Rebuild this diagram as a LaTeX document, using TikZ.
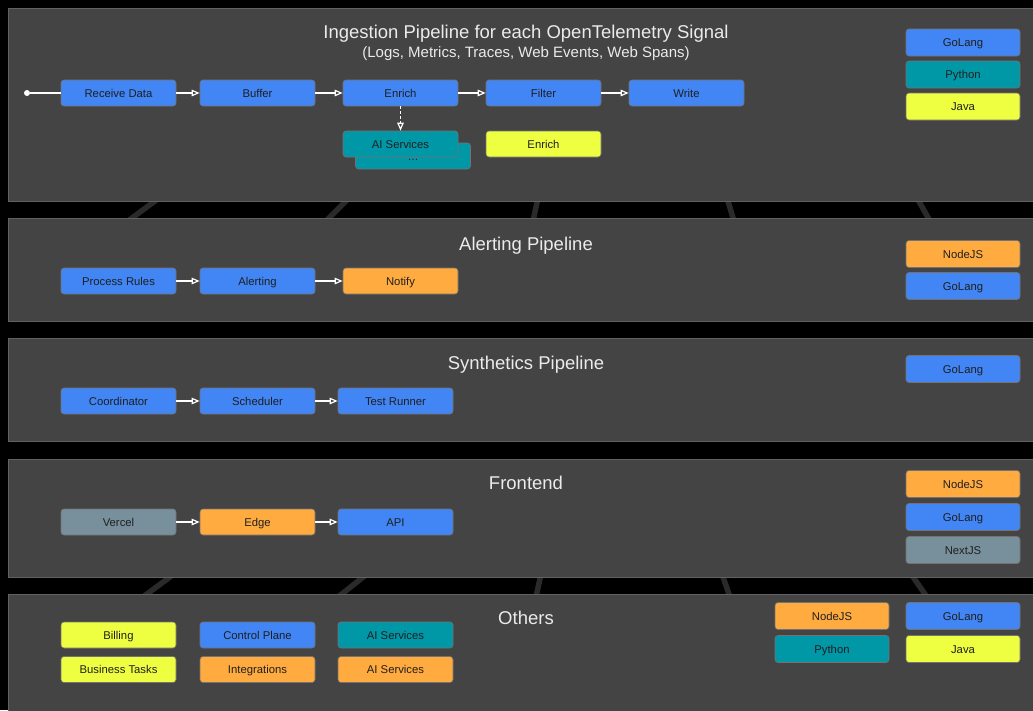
\documentclass[tikz,border=0pt]{standalone}
\usepackage{fontspec}
\setmainfont{Liberation Sans}
\tikzset{>=latex}
\usetikzlibrary{arrows.meta,calc}
\definecolor{cgo}{HTML}{4285F4}
\definecolor{cpy}{HTML}{0097A7}
\definecolor{cjava}{HTML}{EEFF41}
\definecolor{cnode}{HTML}{FFAB40}
\definecolor{cnext}{HTML}{78909C}
\definecolor{panelfill}{HTML}{444444}
\definecolor{panelline}{HTML}{626262}
\definecolor{webline}{HTML}{2A2A2A}

\begin{document}
\begin{tikzpicture}[x=1pt,y=-1pt,
  svc/.style={draw=black!55,line width=0.6pt,rounded corners=3pt,minimum width=115pt,minimum height=26pt,inner sep=0pt,text height=8pt,text depth=0pt,text=black!88,font=\fontsize{11.3}{13}\selectfont},
  lang/.style={svc,minimum width=114pt,minimum height=27pt},
  panel/.style={fill=panelfill,draw=panelline,line width=1pt},
  ttl/.style={anchor=base,text=white!92!black,font=\fontsize{18.5}{22}\selectfont},
  flow/.style={draw=white,line width=1.2pt,-{Triangle[open,length=8pt,width=6.5pt]}},
  web/.style={draw=webline,line width=5.5pt}]
  \pgfmathsetmacro{\cx}{526}
  \useasboundingbox (0,0) rectangle (1033,710);
  \fill[black] (0,0) rectangle (1033,710);
  % background web
  \draw[web] (159,198) -- (128,221);
  \draw[web] (349,198) -- (326,221);
  \draw[web] (538,198) -- (533,221);
  \draw[web] (727,198) -- (734,221);
  \draw[web] (917,198) -- (930,221);
  \draw[web] (174,574) -- (143,597);
  \draw[web] (367,574) -- (338,597);
  \draw[web] (541,574) -- (536,597);
  \draw[web] (722,574) -- (730,597);
  \draw[web] (911,574) -- (927,597);
  % panels
  \draw[panel] (8,8) rectangle (1045,201);
  \draw[panel] (8,218) rectangle (1045,321);
  \draw[panel] (8,338) rectangle (1045,441);
  \draw[panel] (8,459) rectangle (1045,577);
  \draw[panel] (8,594) rectangle (1045,720);

  % ingestion
  \node[ttl] (t1) at (\cx,38.3) {Ingestion Pipeline for each OpenTelemetry Signal};
  \node[ttl,font=\fontsize{15}{18}\selectfont] (t1b) at (\cx,57.5) {(Logs, Metrics, Traces, Web Events, Web Spans)};
  \node[circle,fill=white,inner sep=0pt,minimum size=6pt] (src) at (27,93) {};
  \node[svc,fill=cgo] (recv) at (118.5,93) {Receive Data};
  \node[svc,fill=cgo] (buf) at (257.5,93) {Buffer};
  \node[svc,fill=cgo] (enr) at (400.5,93) {Enrich};
  \node[svc,fill=cgo] (filt) at (543.5,93) {Filter};
  \node[svc,fill=cgo] (wrt) at (686.5,93) {Write};
  \node[svc,fill=cpy] (aimore) at (413,156) {};
  \node[svc,fill=cpy] (ai) at (400.5,144) {AI Services};
  \node[text=black!88,font=\fontsize{11}{13}\selectfont,inner sep=0pt,anchor=base] (dots) at (413,160.5) {\dots};
  \node[svc,fill=cjava] (enrj) at (543.5,144) {Enrich};
  \draw[white,line width=1.2pt] (src) -- (recv);
  \draw[flow] (recv) -- (buf);
  \draw[flow] (buf) -- (enr);
  \draw[flow] (enr) -- (filt);
  \draw[flow] (filt) -- (wrt);
  \draw[flow,dash pattern=on 3pt off 2pt] (enr) -- (ai);
  \node[lang,fill=cgo] (lg1) at (963,42.5) {GoLang};
  \node[lang,fill=cpy] (lp1) at (963,74.5) {Python};
  \node[lang,fill=cjava] (lj1) at (963,106.5) {Java};

  % alerting
  \node[ttl] (t2) at (\cx,250) {Alerting Pipeline};
  \node[svc,fill=cgo] (rules) at (118.5,281) {Process Rules};
  \node[svc,fill=cgo] (alrt) at (257.5,281) {Alerting};
  \node[svc,fill=cnode] (ntfy) at (400.5,281) {Notify};
  \draw[flow] (rules) -- (alrt);
  \draw[flow] (alrt) -- (ntfy);
  \node[lang,fill=cnode] (ln2) at (963,254) {NodeJS};
  \node[lang,fill=cgo] (lg2) at (963,286) {GoLang};

  % synthetics
  \node[ttl] (t3) at (\cx,369) {Synthetics Pipeline};
  \node[svc,fill=cgo] (coord) at (118.5,401) {Coordinator};
  \node[svc,fill=cgo] (sched) at (257.5,401) {Scheduler};
  \node[svc,fill=cgo] (runr) at (395.5,401) {Test Runner};
  \draw[flow] (coord) -- (sched);
  \draw[flow] (sched) -- (runr);
  \node[lang,fill=cgo] (lg3) at (963,369) {GoLang};

  % frontend
  \node[ttl] (t4) at (\cx,489) {Frontend};
  \node[svc,fill=cnext] (vrcl) at (118.5,522) {Vercel};
  \node[svc,fill=cnode] (edge) at (257.5,522) {Edge};
  \node[svc,fill=cgo] (api) at (395.5,522) {API};
  \draw[flow] (vrcl) -- (edge);
  \draw[flow] (edge) -- (api);
  \node[lang,fill=cnode] (ln4) at (963,484) {NodeJS};
  \node[lang,fill=cgo] (lg4) at (963,517) {GoLang};
  \node[lang,fill=cnext] (lx4) at (963,550) {NextJS};

  % others
  \node[ttl] (t5) at (\cx,624) {Others};
  \node[svc,fill=cjava] (bill) at (118.5,635) {Billing};
  \node[svc,fill=cgo] (ctrl) at (257.5,635) {Control Plane};
  \node[svc,fill=cpy] (ai5) at (395.5,635) {AI Services};
  \node[svc,fill=cjava] (biz) at (118.5,669.5) {Business Tasks};
  \node[svc,fill=cnode] (intg) at (257.5,669.5) {Integrations};
  \node[svc,fill=cnode] (ai5b) at (395.5,669.5) {AI Services};
  \node[lang,fill=cnode] (ln5) at (832,616) {NodeJS};
  \node[lang,fill=cgo] (lg5) at (963,616) {GoLang};
  \node[lang,fill=cpy] (lp5) at (832,649) {Python};
  \node[lang,fill=cjava] (lj5) at (963,649) {Java};
\end{tikzpicture}
\end{document}
